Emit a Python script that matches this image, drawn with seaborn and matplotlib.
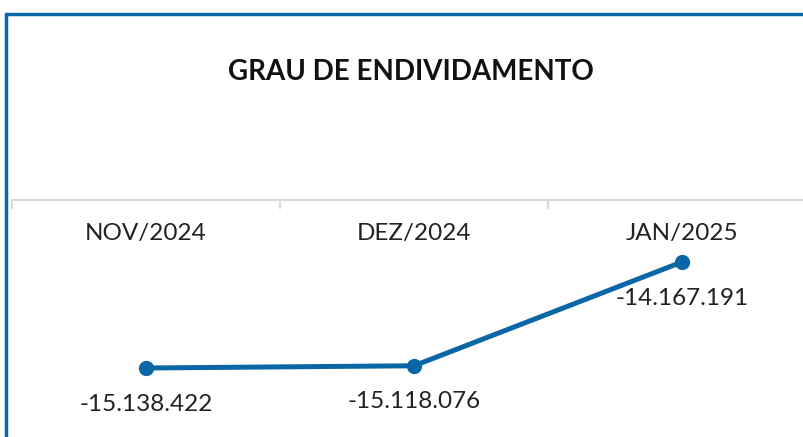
import pandas as pd
import matplotlib.pyplot as plt
import seaborn as sns
from matplotlib.lines import Line2D
from matplotlib.transforms import blended_transform_factory

# dados
meses = ["NOV/2024", "DEZ/2024", "JAN/2025"]
valores = [-15138422, -15118076, -14167191]
rotulos = ["-15.138.422", "-15.118.076", "-14.167.191"]

df = pd.DataFrame({"mes": meses, "valor": valores})

sns.set_theme(style="white")
plt.rcParams["font.family"] = ["Lato", "DejaVu Sans"]

azul = "#0B66A6"
cinza = "#D9D9D9"

fig = plt.figure(figsize=(8.04, 4.37), dpi=100)
ax = fig.add_axes([12 / 804, 0, 1.0, 1 - 200 / 437])

sns.lineplot(data=df, x="mes", y="valor", ax=ax, color=azul, linewidth=3.6,
             marker="o", markersize=11, markeredgewidth=0, sort=False)

ax.set_xlim(-0.5, 2.5)
ax.set_ylim(-15770600, -13599147)

# eixo superior cinza com marcas entre categorias
for s in ["left", "right", "bottom"]:
    ax.spines[s].set_visible(False)
ax.spines["top"].set_color(cinza)
ax.spines["top"].set_linewidth(1.5)
ax.set_yticks([])
ax.set_xticks([])
for xb in [-0.5, 0.5, 1.5, 2.5]:
    ax.plot([xb, xb], [1, 1 - 8 / 237], color=cinza, lw=1.5,
            transform=blended_transform_factory(ax.transData, ax.transAxes),
            clip_on=False)
ax.set_xlabel("")
ax.set_ylabel("")

# rotulos das categorias
trans = blended_transform_factory(ax.transData, ax.transAxes)
for i, m in enumerate(meses):
    ax.text(i, 1 - 33 / 237, m, transform=trans, ha="center", va="center",
            fontsize=17.5, color="#222222")

# rotulos dos valores
for i, (v, r) in enumerate(zip(valores, rotulos)):
    ax.annotate(r, (i, v), xytext=(0, -26), textcoords="offset points",
                ha="center", va="center", fontsize=17.5, color="#222222")

# titulo
fig.text(411 / 804, 1 - 72 / 437, "GRAU DE ENDIVIDAMENTO", ha="center",
         va="center", fontsize=20, fontweight="bold", color="#111111")

# borda azul
fig.add_artist(Line2D([6 / 804, 1], [1 - 14 / 437, 1 - 14 / 437],
                      color=azul, lw=2.5, transform=fig.transFigure))
fig.add_artist(Line2D([6 / 804, 6 / 804], [0, 1 - 14 / 437],
                      color=azul, lw=2.5, transform=fig.transFigure))

plt.savefig("out.png", dpi=100)
